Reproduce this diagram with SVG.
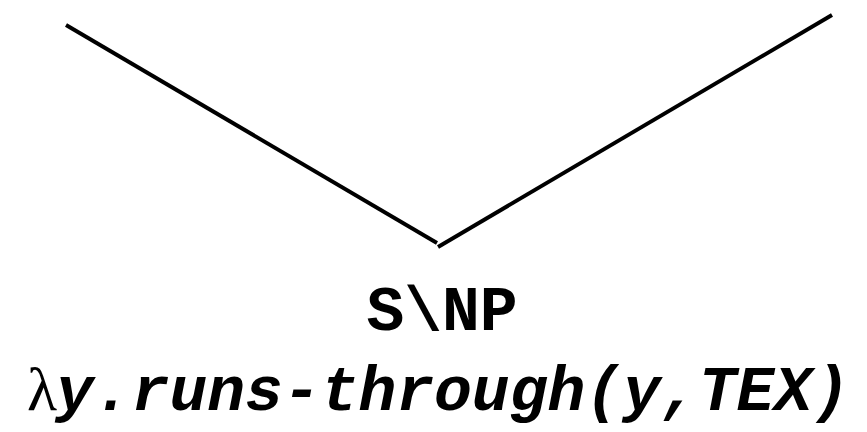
<svg xmlns="http://www.w3.org/2000/svg" width="867" height="432" viewBox="0 0 867 432">
<style>
.edge{stroke:#000;stroke-width:4;fill:none}
.mono{font-family:"Liberation Mono","Courier New",monospace;font-weight:bold;font-size:63px;fill:#000}
.lam{font-family:"Liberation Serif","Times New Roman",serif;font-size:62px;fill:#000}
</style>
<rect width="867" height="432" fill="#fff"/>
<g id="connectors">
<line class="edge" x1="66" y1="25" x2="437" y2="243"/>
<line class="edge" x1="438" y1="247" x2="832" y2="15"/>
</g>
<g id="node-root">
<text class="mono" x="442" y="330" text-anchor="middle">S\NP</text>
<text y="410"><tspan class="lam" x="27">λ</tspan><tspan class="mono" x="56" font-style="italic">y.runs-through(y,TEX)</tspan></text>
</g>
</svg>
